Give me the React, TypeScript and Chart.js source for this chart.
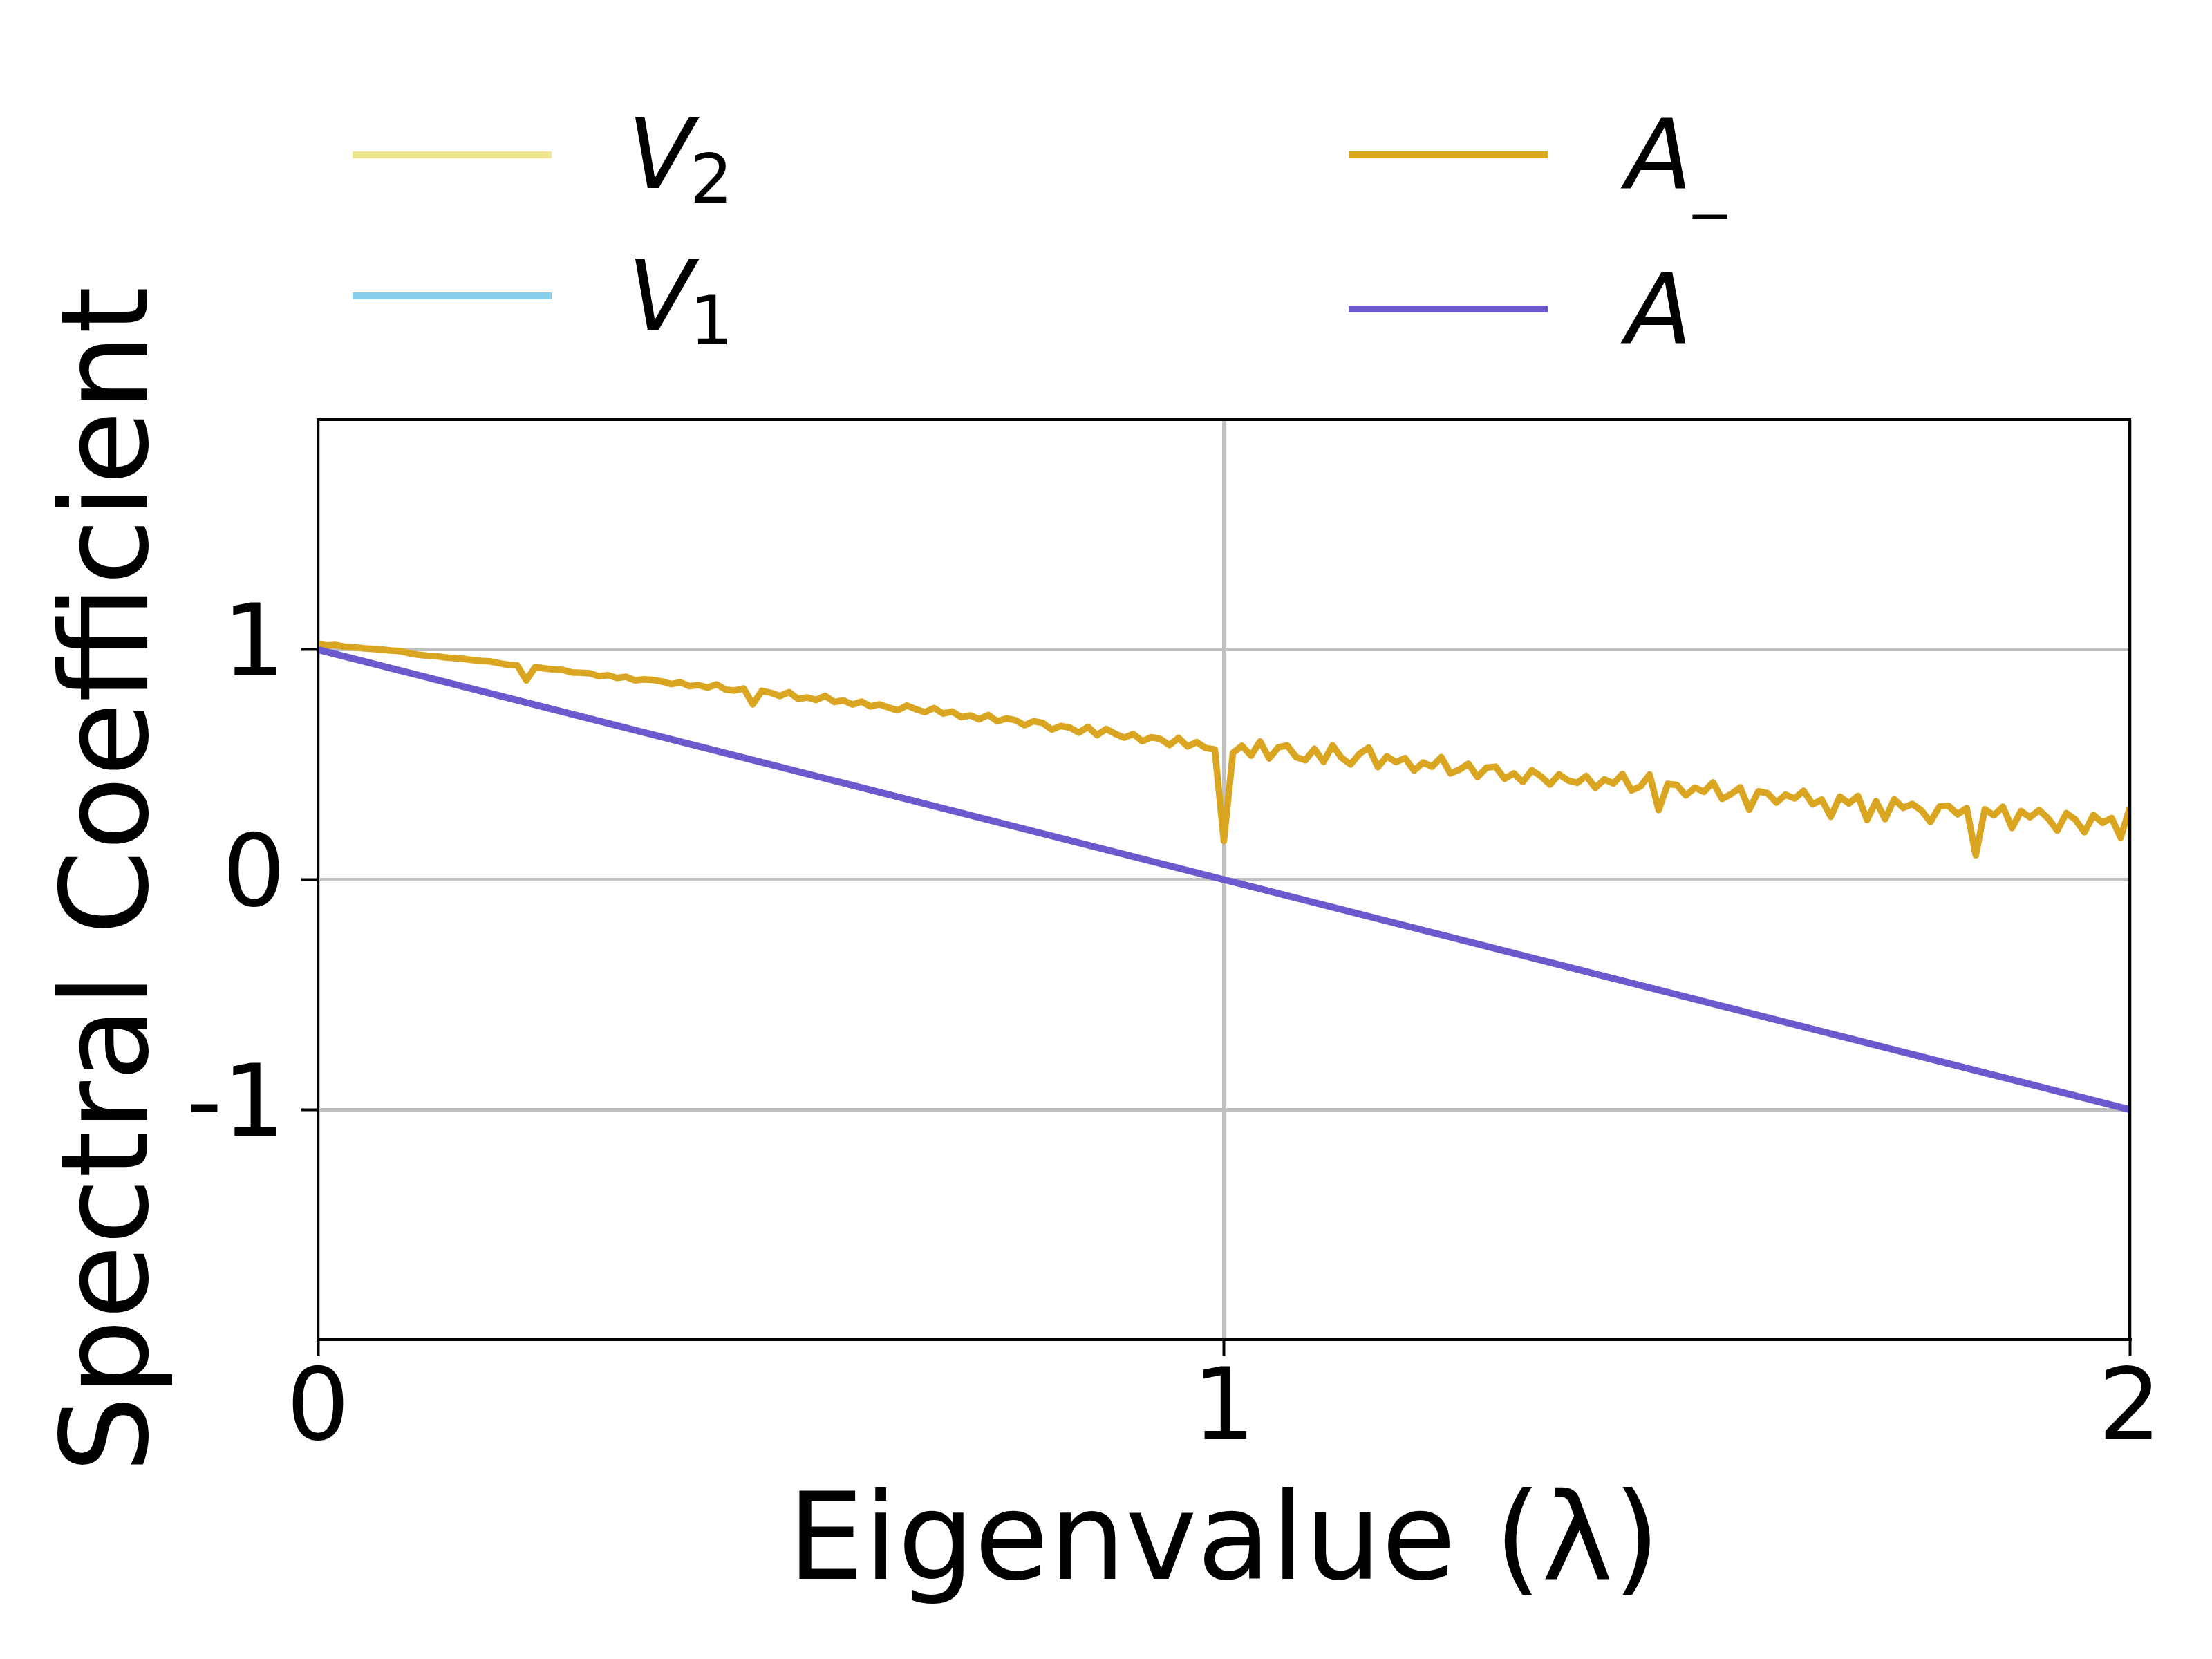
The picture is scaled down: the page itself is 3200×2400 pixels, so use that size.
import { useEffect, useRef } from "react";
import { Chart, registerables } from "chart.js";

Chart.register(...registerables);

// eigenvalue grid for the noisy A_ curve
const eigenvalues = [
  0.0, 0.01, 0.02, 0.03, 0.04, 0.05, 0.06, 0.07, 0.08, 0.09,
  0.1, 0.11, 0.12, 0.13, 0.14, 0.15, 0.16, 0.17, 0.18, 0.19,
  0.2, 0.21, 0.22, 0.23, 0.24, 0.25, 0.26, 0.27, 0.28, 0.29,
  0.3, 0.31, 0.32, 0.33, 0.34, 0.35, 0.36, 0.37, 0.38, 0.39,
  0.4, 0.41, 0.42, 0.43, 0.44, 0.45, 0.46, 0.47, 0.48, 0.49,
  0.5, 0.51, 0.52, 0.53, 0.54, 0.55, 0.56, 0.57, 0.58, 0.59,
  0.6, 0.61, 0.62, 0.63, 0.64, 0.65, 0.66, 0.67, 0.68, 0.69,
  0.7, 0.71, 0.72, 0.73, 0.74, 0.75, 0.76, 0.77, 0.78, 0.79,
  0.8, 0.81, 0.82, 0.83, 0.84, 0.85, 0.86, 0.87, 0.88, 0.89,
  0.9, 0.91, 0.92, 0.93, 0.94, 0.95, 0.96, 0.97, 0.98, 0.99,
  1.0, 1.01, 1.02, 1.03, 1.04, 1.05, 1.06, 1.07, 1.08, 1.09,
  1.1, 1.11, 1.12, 1.13, 1.14, 1.15, 1.16, 1.17, 1.18, 1.19,
  1.2, 1.21, 1.22, 1.23, 1.24, 1.25, 1.26, 1.27, 1.28, 1.29,
  1.3, 1.31, 1.32, 1.33, 1.34, 1.35, 1.36, 1.37, 1.38, 1.39,
  1.4, 1.41, 1.42, 1.43, 1.44, 1.45, 1.46, 1.47, 1.48, 1.49,
  1.5, 1.51, 1.52, 1.53, 1.54, 1.55, 1.56, 1.57, 1.58, 1.59,
  1.6, 1.61, 1.62, 1.63, 1.64, 1.65, 1.66, 1.67, 1.68, 1.69,
  1.7, 1.71, 1.72, 1.73, 1.74, 1.75, 1.76, 1.77, 1.78, 1.79,
  1.8, 1.81, 1.82, 1.83, 1.84, 1.85, 1.86, 1.87, 1.88, 1.89,
  1.9, 1.91, 1.92, 1.93, 1.94, 1.95, 1.96, 1.97, 1.98, 1.99,
  2.0,
];

const aMinusValues = [
  1.024, 1.018, 1.02, 1.012, 1.01, 1.006, 1.003, 1.001, 0.996, 0.994,
  0.985, 0.978, 0.974, 0.972, 0.966, 0.963, 0.96, 0.955, 0.951, 0.949,
  0.941, 0.934, 0.932, 0.866, 0.925, 0.918, 0.914, 0.912, 0.901, 0.899,
  0.897, 0.884, 0.889, 0.877, 0.882, 0.866, 0.871, 0.868, 0.861, 0.85,
  0.858, 0.841, 0.846, 0.835, 0.849, 0.826, 0.822, 0.831, 0.762, 0.821,
  0.812, 0.798, 0.815, 0.786, 0.792, 0.781, 0.799, 0.772, 0.779, 0.761,
  0.774, 0.753, 0.762, 0.748, 0.736, 0.757, 0.741, 0.728, 0.746, 0.722,
  0.731, 0.706, 0.714, 0.697, 0.716, 0.688, 0.701, 0.693, 0.671, 0.689,
  0.681, 0.652, 0.668, 0.661, 0.639, 0.664, 0.628, 0.655, 0.634, 0.617,
  0.633, 0.602, 0.619, 0.611, 0.585, 0.616, 0.579, 0.598, 0.572, 0.566,
  0.168, 0.551, 0.582, 0.539, 0.601, 0.527, 0.575, 0.583, 0.532, 0.519,
  0.569, 0.512, 0.584, 0.529, 0.501, 0.548, 0.574, 0.489, 0.536, 0.511,
  0.528, 0.474, 0.509, 0.491, 0.533, 0.462, 0.478, 0.504, 0.446, 0.487,
  0.491, 0.438, 0.462, 0.424, 0.476, 0.449, 0.413, 0.458, 0.431, 0.421,
  0.451, 0.399, 0.436, 0.418, 0.459, 0.388, 0.405, 0.457, 0.302, 0.416,
  0.411, 0.366, 0.399, 0.382, 0.423, 0.351, 0.372, 0.401, 0.304, 0.384,
  0.376, 0.335, 0.369, 0.353, 0.386, 0.327, 0.348, 0.273, 0.361, 0.331,
  0.364, 0.259, 0.341, 0.263, 0.349, 0.312, 0.329, 0.301, 0.251, 0.318,
  0.321, 0.284, 0.311, 0.106, 0.306, 0.279, 0.317, 0.224, 0.298, 0.271,
  0.302, 0.266, 0.213, 0.289, 0.261, 0.206, 0.281, 0.247, 0.268, 0.182,
  0.312,
];

// A is a straight line
const aEigenvalues = [0, 1, 2];
const aValues = [1, 0, -1];

// V1 / V2 do not show inside the axes
const v2Values: { x: number; y: number }[] = [];
const v1Values: { x: number; y: number }[] = [];

const xTicks = [0, 1, 2];
const yTicks = [-1, 0, 1];

const FONT = '"DejaVu Sans", sans-serif';

// legend slots, in the two-column layout of the picture
const legendSlots = [
  { label: "V", sub: "2", lineX: 510, lineY: 224, textX: 908, base: 272 },
  { label: "V", sub: "1", lineX: 510, lineY: 428, textX: 908, base: 477 },
  { label: "A", sub: "\u2212", lineX: 1951, lineY: 224, textX: 2352, base: 272 },
  { label: "A", sub: "", lineX: 1951, lineY: 447, textX: 2352, base: 496 },
];

const legendPlugin = {
  id: "mplLegend",
  afterDraw(chart: any) {
    const ctx = chart.ctx;
    ctx.save();
    legendSlots.forEach((slot, i) => {
      const ds = chart.data.datasets[i];
      ctx.strokeStyle = ds.borderColor;
      ctx.lineWidth = 10;
      ctx.lineCap = "butt";
      ctx.beginPath();
      ctx.moveTo(slot.lineX, slot.lineY);
      ctx.lineTo(slot.lineX + 288, slot.lineY);
      ctx.stroke();

      ctx.fillStyle = "#000";
      ctx.textBaseline = "alphabetic";
      ctx.textAlign = "left";
      ctx.font = `italic 140px ${FONT}`;
      ctx.fillText(slot.label, slot.textX, slot.base);
      const w = ctx.measureText(slot.label).width;
      if (slot.sub === "\u2212") {
        ctx.font = `80px ${FONT}`;
        ctx.fillText(slot.sub, slot.textX + w - 8, slot.base + 67);
      } else if (slot.sub) {
        ctx.font = `98px ${FONT}`;
        ctx.fillText(slot.sub, slot.textX + w - 6, slot.base + 21);
      }
    });
    ctx.restore();
  },
};

const framePlugin = {
  id: "frame",
  afterDatasetsDraw(chart: any) {
    const { ctx, chartArea } = chart;
    ctx.save();
    ctx.strokeStyle = "#000";
    ctx.lineWidth = 4;
    ctx.strokeRect(
      chartArea.left,
      chartArea.top,
      chartArea.right - chartArea.left,
      chartArea.bottom - chartArea.top
    );
    ctx.restore();
  },
};

const SpectrumChart = () => {
  const chartRef = useRef<HTMLCanvasElement>(null);

  useEffect(() => {
    document.body.style.margin = "0";
    if (chartRef.current) {
      const ctx = chartRef.current.getContext("2d");
      if (ctx) {
        const chart = new Chart(ctx, {
          type: "line",
          data: {
            datasets: [
              {
                label: "V_2",
                data: v2Values,
                borderColor: "#F0E68C",
                borderWidth: 9,
                pointRadius: 0,
                order: 3,
              },
              {
                label: "V_1",
                data: v1Values,
                borderColor: "#87CEEB",
                borderWidth: 9,
                pointRadius: 0,
                order: 2,
              },
              {
                label: "A_-",
                data: eigenvalues.map((x, i) => ({ x, y: aMinusValues[i] })),
                borderColor: "#DAA520",
                borderWidth: 9.5,
                borderJoinStyle: "round",
                pointRadius: 0,
                tension: 0,
                order: 1,
              },
              {
                label: "A",
                data: aEigenvalues.map((x, i) => ({ x, y: aValues[i] })),
                borderColor: "#6A5ACD",
                borderWidth: 10,
                pointRadius: 0,
                order: 0,
              },
            ],
          },
          options: {
            animation: false,
            responsive: false,
            maintainAspectRatio: false,
            devicePixelRatio: 1,
            layout: {
              padding: { top: 607, right: 119, left: 0, bottom: 0 },
            },
            plugins: {
              legend: { display: false },
              tooltip: { enabled: false },
            },
            scales: {
              x: {
                type: "linear",
                position: "bottom",
                min: 0,
                max: 2,
                afterBuildTicks: (scale: any) => {
                  scale.ticks = xTicks.map((value) => ({ value }));
                },
                afterFit: (scale: any) => {
                  scale.height = 462;
                },
                grid: {
                  color: "#c0c0c0",
                  lineWidth: 5,
                  tickColor: "#000",
                  tickWidth: 4,
                  tickLength: 24,
                },
                border: { color: "#000", width: 4 },
                ticks: {
                  color: "#000",
                  padding: 11,
                  font: { family: FONT, size: 144, lineHeight: 1 },
                  callback: (v: any) => String(v),
                },
                title: {
                  display: true,
                  text: "Eigenvalue (\u03bb)",
                  color: "#000",
                  font: { family: FONT, size: 175, lineHeight: 1.2 },
                  padding: { top: 0, bottom: 56 },
                },
              },
              y: {
                type: "linear",
                min: -2,
                max: 2,
                afterBuildTicks: (scale: any) => {
                  scale.ticks = yTicks.map((value) => ({ value }));
                },
                afterFit: (scale: any) => {
                  scale.width = 460;
                },
                grid: {
                  color: "#c0c0c0",
                  lineWidth: 5,
                  tickColor: "#000",
                  tickWidth: 4,
                  tickLength: 24,
                },
                border: { color: "#000", width: 4 },
                ticks: {
                  color: "#000",
                  padding: 23,
                  font: { family: FONT, size: 144, lineHeight: 1 },
                  callback: (v: any) => String(v),
                },
                title: {
                  display: true,
                  text: "Spectral Coefficient",
                  color: "#000",
                  font: { family: FONT, size: 175, lineHeight: 1.2 },
                  padding: { top: 63, bottom: 0 },
                },
              },
            },
          },
          plugins: [framePlugin, legendPlugin],
        });

        return () => chart.destroy();
      }
    }
  }, []);

  return (
    <div
      style={{
        position: "absolute",
        left: 0,
        top: 0,
        width: 3200,
        height: 2400,
        background: "#fff",
      }}
    >
      <canvas ref={chartRef} width={3200} height={2400}></canvas>
    </div>
  );
};

export default function App() {
  return <SpectrumChart />;
}
